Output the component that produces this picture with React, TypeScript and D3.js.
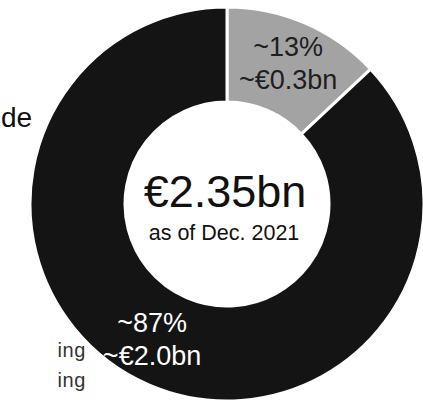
import React from "react";
import * as d3 from "d3";

const categories = ["Share A", "Share B"];
const shares = [13, 87];
const sliceLines = [
  ["~13%", "~€0.3bn"],
  ["~87%", "~€2.0bn"],
];
const totalLabel = "€2.35bn";
const dateLabel = "as of Dec. 2021";
const sideTexts = ["de", "ing", "ing"];

const W = 423;
const H = 401;
const cx = 227;
const cy = 204;
const outerR = 197;
const innerR = 102;
const fills = ["#a3a3a3", "#141414"];
const textFills = ["#1e1e1e", "#ffffff"];
const angleShift = [0, 0.1];

export default function App() {
  const pie = d3
    .pie<number>()
    .sort(null)
    .value((d) => d);
  const arcs = pie(shares);
  const arc = d3.arc<d3.PieArcDatum<number>>().innerRadius(innerR).outerRadius(outerR);
  const labelR = 154;

  return (
    <svg
      width={W}
      height={H}
      style={{ position: "absolute", left: 0, top: 0, background: "#fff" }}
      fontFamily="'Liberation Sans', Arial, Helvetica, sans-serif"
    >
      <rect width={W} height={H} fill="#fff" />
      <g transform={`translate(${cx},${cy})`}>
        {arcs.map((a, i) => (
          <path
            key={categories[i]}
            d={arc(a) || ""}
            fill={fills[i]}
            stroke="#fff"
            strokeWidth={3}
          />
        ))}
        {arcs.map((a, i) => {
          const ang = (a.startAngle + a.endAngle) / 2 + angleShift[i];
          const x = labelR * Math.sin(ang);
          const y = -labelR * Math.cos(ang);
          return (
            <g key={"l" + i} fill={textFills[i]} fontSize={27} textAnchor="middle">
              <text x={x} y={y - 7}>{sliceLines[i][0]}</text>
              <text x={x} y={y + 26}>{sliceLines[i][1]}</text>
            </g>
          );
        })}
        <text x={-2} y={3} fontSize={45} textAnchor="middle" fill="#111">
          {totalLabel}
        </text>
        <text x={-3} y={36} fontSize={21.5} textAnchor="middle" fill="#111">
          {dateLabel}
        </text>
      </g>
      <text x={1} y={127} fontSize={28} textAnchor="start" fill="#111">
        {sideTexts[0]}
      </text>
      <text x={86} y={357} fontSize={20} textAnchor="end" fill="#333" letterSpacing={0.6}>
        {sideTexts[1]}
      </text>
      <text x={86} y={387} fontSize={20} textAnchor="end" fill="#333" letterSpacing={0.6}>
        {sideTexts[2]}
      </text>
    </svg>
  );
}
